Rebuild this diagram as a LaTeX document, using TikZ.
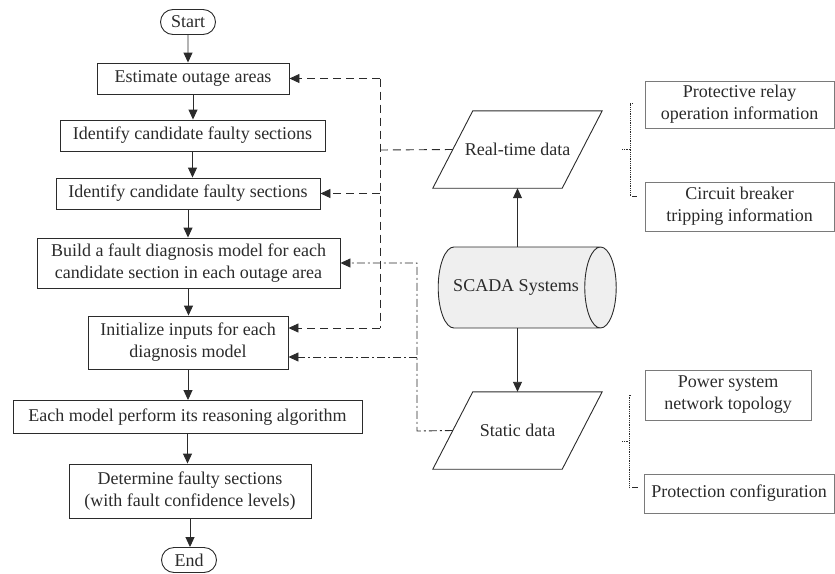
\documentclass[tikz,border=0pt]{standalone}
\usepackage{fontspec}
\setmainfont{Liberation Serif}
\usetikzlibrary{arrows.meta,shapes.geometric,shapes.misc,positioning}

\definecolor{inkgray}{HTML}{2B2B2B}
\definecolor{boxgray}{HTML}{7A7A7A}
\definecolor{dbfill}{HTML}{EFEFEF}

\begin{document}
\begin{tikzpicture}[x=1pt,y=-1pt]
\tikzset{
  every node/.style={font=\fontsize{18}{22}\selectfont,text=inkgray},
  terminal/.style={rounded rectangle,draw=inkgray,line width=0.9pt,minimum width=57pt,minimum height=25pt,inner sep=1pt},
  process/.style={rectangle,draw=inkgray,line width=0.9pt,align=center,inner sep=2pt},
  datain/.style={rectangle,minimum width=169pt,minimum height=77pt,inner sep=0pt},
  dataedge/.style={draw=inkgray,line width=0.9pt,line join=miter},
  database/.style={cylinder,shape border rotate=0,aspect=1.4,draw=inkgray,line width=0.9pt,cylinder uses custom fill,cylinder body fill=dbfill,cylinder end fill=dbfill,minimum width=81pt,minimum height=178pt},
  infobox/.style={rectangle,draw=boxgray,line width=0.9pt,align=center,inner sep=2pt},
  flow/.style={-{Triangle[length=10pt,width=9pt]},draw=inkgray,line width=0.9pt},
  realflow/.style={flow,dash pattern=on 8pt off 5pt},
  staticflow/.style={flow,dash pattern=on 8pt off 3pt on 2pt off 3pt},
  bracket/.style={draw=inkgray,line width=0.8pt,densely dotted}
}
\useasboundingbox (0,0) rectangle (835,573);
\node[terminal] (start) at (188,22) {Start};
\node[process,minimum width=192pt,minimum height=31pt] (est) at (193,78.5) {Estimate outage areas};
\node[process,minimum width=265pt,minimum height=31pt] (id1) at (192.5,135.5) {Identify candidate faulty sections};
\node[process,minimum width=264pt,minimum height=31pt] (id2) at (188,193.5) {Identify candidate faulty sections};
\node[process,minimum width=303pt,minimum height=50pt] (build) at (188.5,263) {Build a fault diagnosis model for each\\candidate section in each outage area};
\node[process,minimum width=200pt,minimum height=53pt] (init) at (188,342.5) {Initialize inputs for each\\diagnosis model};
\node[process,minimum width=349pt,minimum height=33pt] (each) at (187.5,417) {Each model perform its reasoning algorithm};
\node[process,minimum width=242pt,minimum height=54pt] (det) at (190,491) {Determine faulty sections\\(with fault confidence levels)};
\node[terminal] (end) at (189,560) {End};
\node[datain] (rt) at (517.5,149.5) {Real-time data};
\node[database] (scada) at (516,287.5) {SCADA Systems};
\node[datain] (st) at (517.5,430.5) {Static data};
\node[infobox,minimum width=189pt,minimum height=47pt] (relay) at (739.5,104.5) {Protective relay\\operation information};
\node[infobox,minimum width=189pt,minimum height=49pt] (breaker) at (739.5,206.5) {Circuit breaker\\tripping information};
\node[infobox,minimum width=166pt,minimum height=50pt] (topo) at (728,395) {Power system\\network topology};
\node[infobox,minimum width=190pt,minimum height=39pt] (prot) at (739,493.5) {Protection configuration};
\draw[dataedge] ([xshift=40pt]rt.north west) -- (rt.north east) -- ([xshift=-40pt]rt.south east) -- (rt.south west) -- cycle;
\draw[dataedge] ([xshift=40pt]st.north west) -- (st.north east) -- ([xshift=-40pt]st.south east) -- (st.south west) -- cycle;
\coordinate (rtbus) at (380,150);
\coordinate (rtend) at (380,328);
\coordinate (stbus) at (417,431);
\coordinate (stend) at (417,357);
\draw[flow] (start) -- (start |- est.north);
\draw[flow] (est) -- (est |- id1.north);
\draw[flow] (id1) -- (id1 |- id2.north);
\draw[flow] (id2) -- (id2 |- build.north);
\draw[flow] (build) -- (build |- init.north);
\draw[flow] (init) -- (init |- each.north);
\draw[flow] (each) -- (each |- det.north);
\draw[flow] (det) -- (det |- end.north);
\draw[flow] (rt |- scada.north) -- (rt);
\draw[flow] (st |- scada.south) -- (st);
\draw[realflow,-] ([xshift=20pt]rt.west) -- (rtbus);
\draw[realflow,-] (rtbus |- est.east) -- (rtend);
\draw[realflow] (rtbus |- est.east) -- (est.east);
\draw[realflow] (rtbus |- id2.east) -- (id2.east);
\draw[realflow] (rtend) -- (rtend -| init.east);
\draw[staticflow] ([xshift=20pt]st.west) -- (stbus) -- (stbus |- build.east) -- (build.east);
\draw[staticflow] (stend) -- (stend -| init.east);
\draw[bracket] (622,149) -- (630,149);
\draw[bracket] (633,103) -- (630,103) -- (630,196);
\draw[draw=inkgray,line width=0.8pt] (632,196) -- (637,196);
\draw[bracket] (622,441) -- (629,441);
\draw[bracket] (631,395) -- (629,395) -- (629,487);
\draw[draw=inkgray,line width=0.8pt] (632,487) -- (638,487);
\end{tikzpicture}
\end{document}
